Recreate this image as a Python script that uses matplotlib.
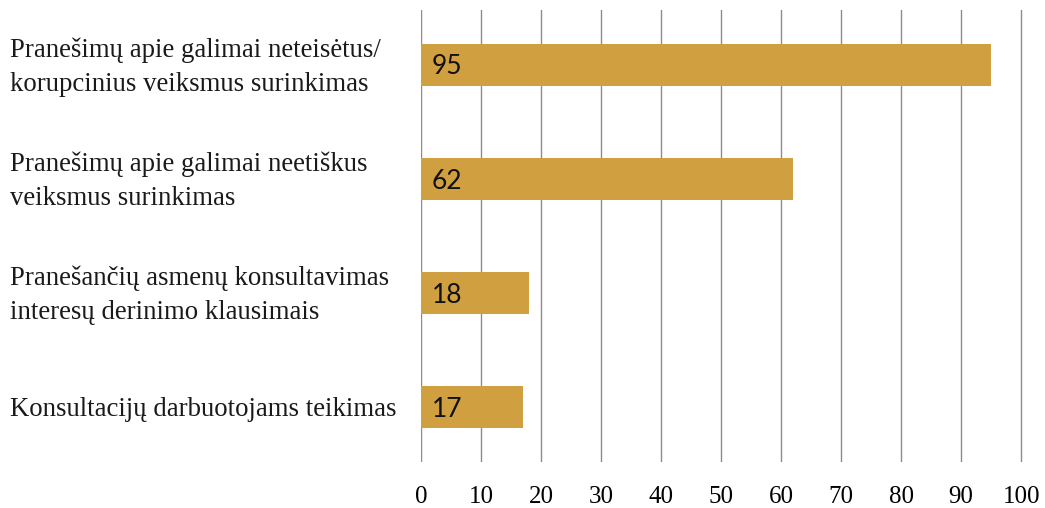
import matplotlib.pyplot as plt
from matplotlib import transforms

# Datos
categorias = [
    "Pranešimų apie galimai neteisėtus/\nkorupcinius veiksmus surinkimas",
    "Pranešimų apie galimai neetiškus\nveiksmus surinkimas",
    "Pranešančių asmenų konsultavimas\ninteresų derinimo klausimais",
    "Konsultacijų darbuotojams teikimas",
]
valores = [95, 62, 18, 17]
ticks_x = [0, 10, 20, 30, 40, 50, 60, 70, 80, 90, 100]

fig = plt.figure(figsize=(10.45, 5.08), dpi=100)
ax = fig.add_axes([421 / 1045, 1 - 462 / 508, 602 / 1045, 452 / 508])

pos = list(range(len(valores)))
ax.barh(pos, valores, height=0.37, color="#CF9F40", zorder=3)

# valores dentro de las barras
for p, v in zip(pos, valores):
    ax.annotate(str(v), xy=(0, p), xytext=(7.5, -1.5), textcoords="offset points",
                ha="left", va="center", fontsize=19, family="Lato", color="#111111", zorder=4)

# etiquetas de categorías a la izquierda
trans = transforms.blended_transform_factory(fig.transFigure, ax.transData)
for p, txt in zip(pos, categorias):
    ax.text(10 / 1045, p + 0.02, txt, transform=trans, ha="left", va="center",
            fontsize=19.3, family="Liberation Serif", color="#1a1a1a", linespacing=1.46)

ax.set_xlim(0, 100.3)
ax.set_ylim(3.48, -0.48)
ax.set_xticks(ticks_x)
ax.set_xticklabels([str(t) for t in ticks_x], fontsize=18, family="Liberation Serif")
ax.set_yticks([])
ax.tick_params(axis="x", length=0, pad=17)
ax.grid(axis="x", color="#8c8c8c", linewidth=1, zorder=0)
for s in ax.spines.values():
    s.set_visible(False)

plt.savefig("out.png", dpi=100)
